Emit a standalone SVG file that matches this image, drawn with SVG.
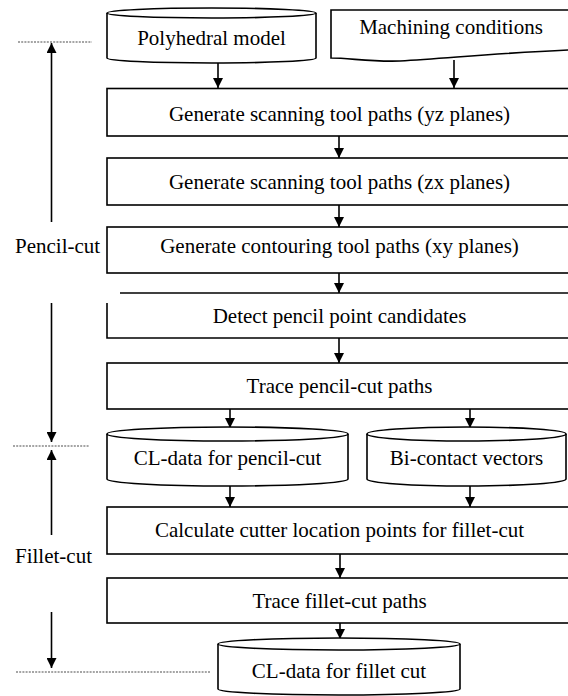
<svg xmlns="http://www.w3.org/2000/svg" width="568" height="696" viewBox="0 0 568 696">
<defs>
<marker id="ah" markerUnits="userSpaceOnUse" markerWidth="10" markerHeight="10" refX="10" refY="5" orient="auto"><path d="M0,0 L10,5 L0,10 z" fill="#000"/></marker>
<style>
.s{fill:#fff;stroke:#000;stroke-width:1.6}
.l{fill:none;stroke:#000;stroke-width:1.6}
.c{fill:none;stroke:#000;stroke-width:1.6;marker-end:url(#ah)}
.d{fill:none;stroke:#888;stroke-width:1.6;stroke-dasharray:2,1.2}
text{font-family:"Liberation Serif","Times New Roman",serif;font-size:21px;fill:#000}
.m{text-anchor:middle}
</style>
</defs>
<rect width="568" height="696" fill="#fff"/>
<g id="connectors">
<line class="c" x1="218" y1="63" x2="218" y2="88"/>
<line class="c" x1="454" y1="60" x2="454" y2="88"/>
<line class="c" x1="339" y1="136" x2="339" y2="158"/>
<line class="c" x1="339" y1="205" x2="339" y2="227"/>
<line class="c" x1="339" y1="273" x2="339" y2="293"/>
<line class="c" x1="339" y1="338" x2="339" y2="363"/>
<line class="c" x1="230" y1="409" x2="230" y2="428"/>
<line class="c" x1="470" y1="409" x2="470" y2="428"/>
<line class="c" x1="230" y1="486" x2="230" y2="507"/>
<line class="c" x1="470" y1="486" x2="470" y2="507"/>
<line class="c" x1="340" y1="554" x2="340" y2="578"/>
<line class="c" x1="340" y1="623" x2="340" y2="639"/>
<line class="c" x1="51.5" y1="222" x2="51.5" y2="43"/>
<line class="c" x1="51.5" y1="303" x2="51.5" y2="442"/>
<line class="c" x1="51.5" y1="535" x2="51.5" y2="450"/>
<line class="c" x1="51.5" y1="612" x2="51.5" y2="668"/>
<line class="d" x1="18" y1="42" x2="92" y2="42"/>
<line class="d" x1="13" y1="446" x2="89" y2="446"/>
<line class="d" x1="16" y1="672" x2="211" y2="672"/>
</g>
<g id="polyhedral">
<path class="s" d="M107,13 V58 A104.5,5 0 0 0 316,58 V13"/>
<ellipse class="s" cx="211.5" cy="13" rx="104.5" ry="5"/>
<text class="m" x="211.5" y="45">Polyhedral model</text>
</g>
<g id="machining">
<path class="s" d="M331,10 H575 V50 L568,50 C500,53 450,58 400,61 C370,62 350,58 331,58 Z"/>
<text class="m" x="451" y="34">Machining conditions</text>
</g>
<g id="scan-yz">
<rect class="s" x="107" y="88.5" width="470" height="47.5"/>
<text class="m" x="339.5" y="121">Generate scanning tool paths (yz planes)</text>
</g>
<g id="scan-zx">
<rect class="s" x="107" y="158" width="470" height="47"/>
<text class="m" x="339.5" y="189">Generate scanning tool paths (zx planes)</text>
</g>
<g id="contour-xy">
<rect class="s" x="107" y="227" width="470" height="46"/>
<text class="m" x="339.5" y="253">Generate contouring tool paths (xy planes)</text>
</g>
<g id="detect">
<path class="l" d="M120,293 H575"/>
<path class="l" d="M107,303 V338 H575"/>
<text class="m" x="339.5" y="323">Detect pencil point candidates</text>
</g>
<g id="trace-pencil">
<rect class="s" x="107" y="363" width="470" height="46"/>
<text class="m" x="339.5" y="393">Trace pencil-cut paths</text>
</g>
<g id="cl-pencil">
<path class="s" d="M107,434 V479 A120.5,7 0 0 0 348,479 V434"/>
<ellipse class="s" cx="227.5" cy="434" rx="120.5" ry="7"/>
<text class="m" x="227.5" y="465">CL-data for pencil-cut</text>
</g>
<g id="bicontact">
<path class="s" d="M367,434 V479 A99.5,7 0 0 0 566,479 V434"/>
<ellipse class="s" cx="466.5" cy="434" rx="99.5" ry="7"/>
<text class="m" x="466.5" y="465">Bi-contact vectors</text>
</g>
<g id="calc">
<rect class="s" x="107" y="507" width="470" height="47"/>
<text class="m" x="339.5" y="537">Calculate cutter location points for fillet-cut</text>
</g>
<g id="trace-fillet">
<rect class="s" x="107" y="578" width="470" height="45"/>
<text class="m" x="339.5" y="608">Trace fillet-cut paths</text>
</g>
<g id="cl-fillet">
<path class="s" d="M218,644 V689 A121,6 0 0 0 460,689 V644"/>
<ellipse class="s" cx="339" cy="644" rx="121" ry="6"/>
<text class="m" x="339" y="678">CL-data for fillet cut</text>
</g>
<g id="labels">
<text x="15" y="253">Pencil-cut</text>
<text x="15" y="563">Fillet-cut</text>
</g>
</svg>
